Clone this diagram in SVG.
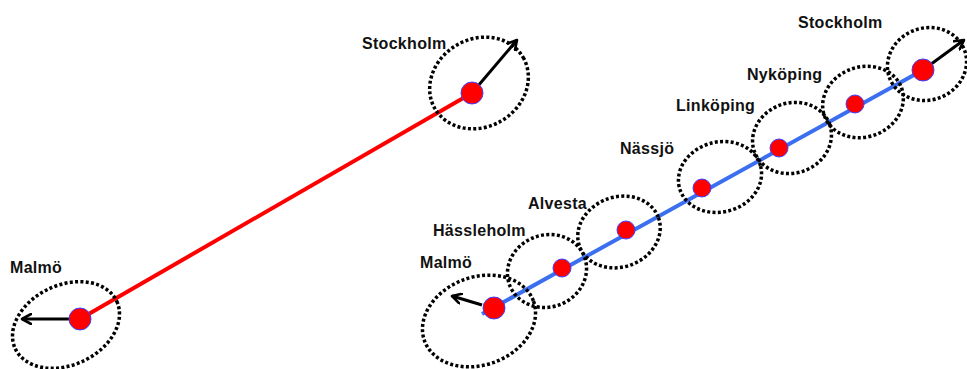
<svg xmlns="http://www.w3.org/2000/svg" width="967" height="369" viewBox="0 0 967 369">
<defs>
<marker id="ah" viewBox="0 0 12 12" refX="10" refY="6" markerWidth="12" markerHeight="12" markerUnits="userSpaceOnUse" orient="auto">
<polyline points="1,1 10,6 1,11" fill="none" stroke="#000" stroke-width="2.6" stroke-linecap="round" stroke-linejoin="round"/>
</marker>
<style>
.lbl{font-family:"Liberation Sans",Arial,sans-serif;font-weight:bold;font-size:16px;fill:#111;letter-spacing:0.3px}
.ell{fill:none;stroke:#000;stroke-width:3.5;stroke-dasharray:3 2.3}
.pt{fill:#ff0000;stroke:#4040ff;stroke-width:1}
.arr{stroke:#000;stroke-width:3;fill:none;marker-end:url(#ah)}
</style>
</defs>
<rect width="967" height="369" fill="#fff"/>
<g id="connectors">
<line x1="80" y1="319" x2="472" y2="93" stroke="#ff0000" stroke-width="4"/>
<line x1="482" y1="314" x2="923" y2="70" stroke="#3b6ff0" stroke-width="4"/>
<line class="arr" x1="80" y1="319" x2="22" y2="319"/>
<line class="arr" x1="472" y1="93" x2="517" y2="40"/>
<line class="arr" x1="482" y1="305" x2="452" y2="296"/>
<line class="arr" x1="923" y1="70" x2="964" y2="40"/>
</g>
<g id="left-malmo">
<ellipse class="ell" cx="66" cy="325" rx="56" ry="40" transform="rotate(-25 66 325)"/>
<circle class="pt" cx="80" cy="319" r="11"/>
<text class="lbl" x="10" y="273">Malmö</text>
</g>
<g id="left-stockholm">
<ellipse class="ell" cx="479" cy="83" rx="51" ry="44" transform="rotate(-30 479 83)"/>
<circle class="pt" cx="472" cy="93" r="11"/>
<text class="lbl" x="362" y="49">Stockholm</text>
</g>
<g id="r-malmo">
<ellipse class="ell" cx="479" cy="321" rx="58" ry="44" transform="rotate(-20 479 321)"/>
<circle class="pt" cx="494" cy="308" r="11"/>
<text class="lbl" x="420" y="268">Malmö</text>
</g>
<g id="r-hassleholm">
<ellipse class="ell" cx="547" cy="271" rx="40" ry="36" transform="rotate(-20 547 271)"/>
<circle class="pt" cx="562" cy="268" r="9"/>
<text class="lbl" x="433" y="236">Hässleholm</text>
</g>
<g id="r-alvesta">
<ellipse class="ell" cx="619" cy="232" rx="42" ry="35" transform="rotate(-20 619 232)"/>
<circle class="pt" cx="626" cy="230" r="9"/>
<text class="lbl" x="528" y="209">Alvesta</text>
</g>
<g id="r-nassjo">
<ellipse class="ell" cx="720" cy="177" rx="42" ry="35" transform="rotate(-15 720 177)"/>
<circle class="pt" cx="702" cy="188" r="9"/>
<text class="lbl" x="620" y="154">Nässjö</text>
</g>
<g id="r-linkoping">
<ellipse class="ell" cx="792" cy="138" rx="40" ry="35" transform="rotate(-20 792 138)"/>
<circle class="pt" cx="779" cy="148" r="9"/>
<text class="lbl" x="676" y="111">Linköping</text>
</g>
<g id="r-nykoping">
<ellipse class="ell" cx="863" cy="102" rx="41" ry="35" transform="rotate(-20 863 102)"/>
<circle class="pt" cx="855" cy="104" r="9"/>
<text class="lbl" x="747" y="80">Nyköping</text>
</g>
<g id="r-stockholm">
<ellipse class="ell" cx="927" cy="64" rx="40" ry="36" transform="rotate(-20 927 64)"/>
<circle class="pt" cx="923" cy="70" r="11"/>
<text class="lbl" x="798" y="28">Stockholm</text>
</g>
</svg>
